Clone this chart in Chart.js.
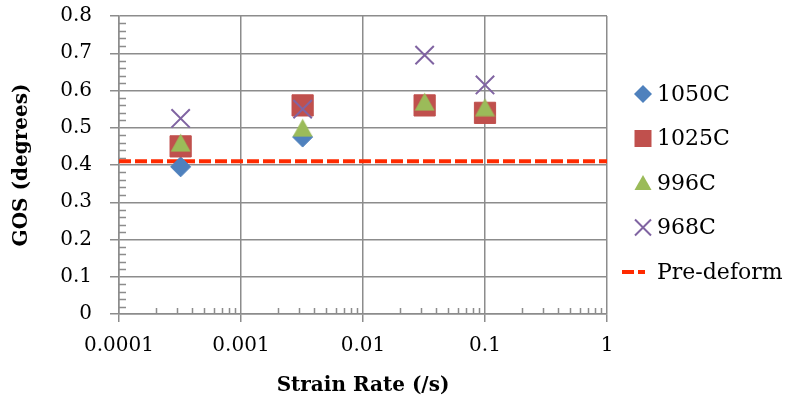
<!DOCTYPE html>
<html>
<head>
<meta charset="utf-8">
<script src="https://cdn.jsdelivr.net/npm/chart.js@4/dist/chart.umd.min.js"></script>
<style>
  html, body { margin: 0; padding: 0; background: #ffffff; }
  #wrap { width: 789px; height: 404px; }
</style>
</head>
<body>
<div id="wrap"><canvas id="c" width="789" height="404"></canvas></div>
<script>
// Grain orientation spread vs. strain rate at four deformation temperatures
const strainRates = [0.00032, 0.0032, 0.032, 0.1];
const gos1050 = [0.395, 0.475];
const gos1025 = [0.45, 0.56, 0.56, 0.54];
const gos996 = [0.46, 0.50, 0.57, 0.555];
const gos968 = [0.525, 0.55, 0.695, 0.615];
const preDeform = 0.41;
const preDeformSpan = [0.0001, 1];

const seriesNames = ['1050C', '1025C', '996C', '968C', 'Pre-deform'];
const xTicks = [0.0001, 0.001, 0.01, 0.1, 1];
const xTickLabels = ['0.0001', '0.001', '0.01', '0.1', '1'];
const yTicks = [0, 0.1, 0.2, 0.3, 0.4, 0.5, 0.6, 0.7, 0.8];
const yTickLabels = ['0', '0.1', '0.2', '0.3', '0.4', '0.5', '0.6', '0.7', '0.8'];

const GRID = '#8c8c8c';
const SERIF = "'DejaVu Serif', serif";
const GREEN = '#9BBB59';

function pts(xs, ys) {
  return ys.map((y, i) => ({ x: xs[i], y: y }));
}

// triangle marker centred on its bounding box
function triangleMarker(w, h, color) {
  const cv = document.createElement('canvas');
  cv.width = w; cv.height = h;
  const c = cv.getContext('2d');
  c.fillStyle = color;
  c.beginPath();
  c.moveTo(w / 2, 0.5);
  c.lineTo(w - 0.5, h - 0.5);
  c.lineTo(0.5, h - 0.5);
  c.closePath();
  c.fill();
  return cv;
}

// short inner minor ticks on both axes
const minorTicks = {
  id: 'minorTicks',
  beforeDatasetsDraw(chart) {
    const { ctx, chartArea, scales: { x, y } } = chart;
    ctx.save();
    ctx.strokeStyle = GRID;
    ctx.lineWidth = 1.5;
    ctx.beginPath();
    for (let d = 0; d < xTicks.length - 1; d++) {
      for (let m = 2; m <= 9; m++) {
        const px = Math.round(x.getPixelForValue(xTicks[d] * m)) + 0.5;
        ctx.moveTo(px, chartArea.bottom);
        ctx.lineTo(px, chartArea.bottom - 6);
      }
    }
    for (let k = 1; k < 40; k++) {
      if (k % 5 === 0) continue;
      const py = Math.round(y.getPixelForValue(k * 0.02)) + 0.5;
      ctx.moveTo(chartArea.left, py);
      ctx.lineTo(chartArea.left + 7, py);
    }
    ctx.stroke();
    ctx.restore();
  }
};

// legend at the right of the plot
const sideLegend = {
  id: 'sideLegend',
  afterDraw(chart) {
    const { ctx } = chart;
    const mx = 643, tx = 657, y0 = 94, dy = 44.5;
    const ds = chart.data.datasets;
    ctx.save();
    ds.forEach((d, i) => {
      const cy = y0 + i * dy;
      ctx.fillStyle = d.backgroundColor;
      ctx.strokeStyle = d.borderColor;
      ctx.setLineDash([]);
      ctx.beginPath();
      if (d.marker === 'diamond') {
        ctx.moveTo(mx, cy - 9); ctx.lineTo(mx + 9, cy); ctx.lineTo(mx, cy + 9); ctx.lineTo(mx - 9, cy);
        ctx.closePath(); ctx.fill();
      } else if (d.marker === 'square') {
        ctx.rect(mx - 8.5, cy - 8.5, 17, 17); ctx.fill();
      } else if (d.marker === 'triangle') {
        ctx.moveTo(mx, cy - 8); ctx.lineTo(mx + 8.5, cy + 7); ctx.lineTo(mx - 8.5, cy + 7);
        ctx.closePath(); ctx.fill();
      } else if (d.marker === 'x') {
        ctx.lineWidth = 2;
        ctx.moveTo(mx - 8, cy - 8); ctx.lineTo(mx + 8, cy + 8);
        ctx.moveTo(mx + 8, cy - 8); ctx.lineTo(mx - 8, cy + 8);
        ctx.stroke();
      } else {
        ctx.lineWidth = 4;
        ctx.setLineDash(d.borderDash);
        ctx.moveTo(622, cy); ctx.lineTo(645, cy);
        ctx.stroke();
      }
      ctx.setLineDash([]);
      ctx.fillStyle = '#000000';
      ctx.font = "22px " + SERIF;
      ctx.textBaseline = 'middle';
      ctx.textAlign = 'left';
      ctx.fillText(d.label, tx, cy + 1);
    });
    ctx.restore();
  }
};

const chart = new Chart(document.getElementById('c'), {
  type: 'scatter',
  data: {
    datasets: [
      { label: seriesNames[0], marker: 'diamond', data: pts(strainRates, gos1050), pointStyle: 'rectRot', pointRadius: 10,
        backgroundColor: '#4F81BD', borderColor: '#4F81BD', borderWidth: 1, order: 4 },
      { label: seriesNames[1], marker: 'square', data: pts(strainRates, gos1025), pointStyle: 'rect', pointRadius: 15,
        backgroundColor: '#C0504D', borderColor: '#C0504D', borderWidth: 1, order: 3 },
      { label: seriesNames[2], marker: 'triangle', data: pts(strainRates, gos996), pointStyle: triangleMarker(21, 19, GREEN),
        pointRadius: 11, backgroundColor: GREEN, borderColor: GREEN, borderWidth: 0, order: 2 },
      { label: seriesNames[3], marker: 'x', data: pts(strainRates, gos968), pointStyle: 'crossRot', pointRadius: 13,
        backgroundColor: '#8064A2', borderColor: '#8064A2', borderWidth: 2, order: 1 },
      { label: seriesNames[4], marker: 'dash', data: preDeformSpan.map(x => ({ x: x, y: preDeform })), showLine: true,
        pointRadius: 0, borderColor: '#FF2A00', backgroundColor: '#FF2A00', borderWidth: 4,
        borderDash: [12, 4], order: 5 }
    ]
  },
  options: {
    responsive: false,
    animation: false,
    events: [],
    layout: { padding: { top: 15, right: 182, bottom: 0, left: 0 } },
    plugins: { legend: { display: false }, tooltip: { enabled: false } },
    scales: {
      x: {
        type: 'logarithmic',
        min: 0.0001,
        max: 1,
        afterBuildTicks(scale) { scale.ticks = xTicks.map(v => ({ value: v })); },
        afterFit(scale) { scale.height = 90; },
        grid: { color: GRID, lineWidth: 1.5, tickLength: 8, tickColor: GRID },
        border: { color: GRID, width: 1.5 },
        ticks: {
          autoSkip: false, maxRotation: 0, padding: 12, color: '#000000',
          font: { family: SERIF, size: 20 },
          callback(value) { const i = xTicks.indexOf(value); return i >= 0 ? xTickLabels[i] : ''; }
        },
        title: {
          display: true, text: 'Strain Rate (/s)', color: '#000000',
          font: { family: SERIF, size: 20, weight: 'bold' },
          padding: { top: 0, bottom: 6 }
        }
      },
      y: {
        min: 0,
        max: 0.8,
        afterBuildTicks(scale) { scale.ticks = yTicks.map(v => ({ value: v })); },
        afterFit(scale) { scale.width = 119; scale.paddingTop = 0; scale.paddingBottom = 0; },
        grid: { color: GRID, lineWidth: 1.5, tickLength: 9, tickColor: GRID },
        border: { color: GRID, width: 1.5 },
        ticks: {
          padding: 18, color: '#000000',
          font: { family: SERIF, size: 20 },
          callback(value) { const i = yTicks.findIndex(v => Math.abs(v - value) < 1e-9); return i >= 0 ? yTickLabels[i] : ''; }
        },
        title: {
          display: true, text: 'GOS (degrees)', color: '#000000',
          font: { family: SERIF, size: 20, weight: 'bold' },
          padding: { top: 10, bottom: 0 }
        }
      }
    }
  },
  plugins: [minorTicks, sideLegend]
});
</script>
</body>
</html>
